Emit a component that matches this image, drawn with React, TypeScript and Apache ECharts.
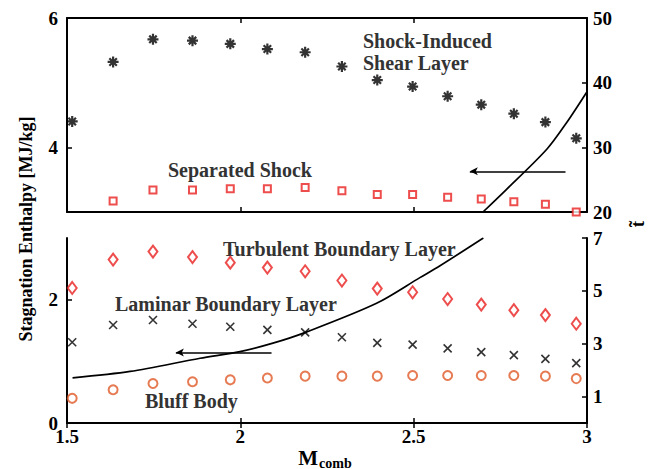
import React, { useEffect, useRef } from "react";
import * as echarts from "echarts";

// Mach number (x) of each measured case
const machComb = [1.515, 1.633, 1.748, 1.862, 1.971, 2.078, 2.187, 2.293, 2.395, 2.497, 2.598, 2.695, 2.789, 2.880, 2.969];

// Top panel (Stagnation enthalpy, MJ/kg)
const shockInducedShear = [4.40, 5.32, 5.67, 5.65, 5.60, 5.52, 5.47, 5.25, 5.04, 4.94, 4.79, 4.66, 4.52, 4.39, 4.14];
const separatedShock = [null, 3.17, 3.34, 3.34, 3.36, 3.36, 3.38, 3.33, 3.27, 3.27, 3.23, 3.20, 3.16, 3.12, 3.00];

// Bottom panel (Stagnation enthalpy, MJ/kg)
const turbulentBL = [2.19, 2.65, 2.78, 2.69, 2.60, 2.52, 2.46, 2.31, 2.18, 2.12, 2.01, 1.92, 1.83, 1.75, 1.61];
const laminarBL = [1.31, 1.59, 1.67, 1.61, 1.56, 1.51, 1.47, 1.39, 1.30, 1.27, 1.21, 1.15, 1.10, 1.04, 0.97];
const bluffBody = [0.40, 0.54, 0.64, 0.67, 0.70, 0.73, 0.76, 0.76, 0.76, 0.77, 0.77, 0.77, 0.77, 0.76, 0.72];

// t~ curve (right axis), low and high parts of the broken axis
const curveLowM = [1.516, 1.682, 1.884, 1.999, 2.094, 2.186, 2.393, 2.518, 2.576, 2.701];
const curveLowT = [1.71, 1.95, 2.45, 2.70, 3.02, 3.42, 4.53, 5.50, 5.95, 7.0];
const curveHighM = [2.70, 2.768, 2.884, 2.941, 3.0];
const curveHighT = [20, 23.5, 29.7, 33.8, 38.6];

// Arrows (data coords on the t~ axes)
const arrowTop = { from: [2.938, 26.3], to: [2.662, 26.3] };
const arrowBottom = { from: [2.09, 2.67], to: [1.814, 2.67] };

// Tick labels
const xTicks = { min: 1.5, max: 3, interval: 0.5 };
const topLeftTicks = [4, 6];
const bottomLeftTicks = [0, 2];
const bottomRightTicks = [1, 3, 5, 7];

const FONT = "'Liberation Serif', 'Times New Roman', serif";

const pair = (xs: number[], ys: (number | null)[]) =>
  xs.map((x, i) => [x, ys[i]]).filter((p) => p[1] !== null);

const ASTERISK = "path://M5 0 L5 10 M0 5 L10 5 M1.6 1.6 L8.4 8.4 M8.4 1.6 L1.6 8.4";
const CROSS = "path://M0 0 L10 10 M10 0 L0 10";

export default function App() {
  const ref = useRef<HTMLDivElement>(null);
  useEffect(() => {
    if (!ref.current) return;
    const chart = echarts.init(ref.current, null, { renderer: "svg" });

    const axisLine = { show: true, lineStyle: { color: "#000", width: 2 } };
    const tick = { show: true, inside: true, length: 5, lineStyle: { color: "#000", width: 1.5 } };
    const lbl = { color: "#000", fontFamily: FONT, fontWeight: "bold" as const, fontSize: 19 };

    const xBase = (gridIndex: number, position: string, showLabel: boolean) => ({
      type: "value",
      gridIndex,
      position,
      min: xTicks.min,
      max: xTicks.max,
      interval: xTicks.interval,
      axisLine,
      axisTick: tick,
      splitLine: { show: false },
      axisLabel: showLabel ? { ...lbl, margin: 4 } : { show: false },
    });

    const arrowLine = (a: { from: number[]; to: number[] }) => ({
      silent: true,
      symbol: ["none", "arrow"],
      symbolSize: [6, 8],
      lineStyle: { color: "#000", width: 1.5, type: "solid" },
      label: { show: false },
      emphasis: { disabled: true },
      data: [[{ coord: a.from }, { coord: a.to }]],
    });

    const ann = (text: string, left: number, top: number) => ({
      type: "text", left, top,
      style: { text, font: `bold 20px ${FONT}`, fill: "#333" },
    });

    const option: any = {
      animation: false,
      backgroundColor: "#fff",
      grid: [
        { left: 67, right: 75, top: 18, height: 194 },
        { left: 67, right: 75, top: 238, height: 185 },
      ],
      xAxis: [
        xBase(0, "bottom", false),
        xBase(0, "top", false),
        xBase(1, "bottom", true),
        xBase(1, "top", false),
      ],
      yAxis: [
        {
          type: "value", gridIndex: 0, position: "left", min: 3, max: 6,
          axisLine, splitLine: { show: false },
          axisTick: { ...tick, customValues: topLeftTicks },
          axisLabel: { ...lbl, margin: 9, customValues: topLeftTicks },
        },
        {
          type: "value", gridIndex: 0, position: "right", min: 20, max: 50, interval: 10,
          axisLine, splitLine: { show: false }, axisTick: tick,
          axisLabel: { ...lbl, margin: 6 },
        },
        {
          type: "value", gridIndex: 1, position: "left", min: 0, max: 3,
          axisLine, splitLine: { show: false },
          axisTick: { ...tick, customValues: bottomLeftTicks },
          axisLabel: { ...lbl, margin: 9, customValues: bottomLeftTicks },
        },
        {
          type: "value", gridIndex: 1, position: "right", min: 0, max: 7,
          axisLine, splitLine: { show: false },
          axisTick: { ...tick, customValues: bottomRightTicks },
          axisLabel: { ...lbl, margin: 6, customValues: bottomRightTicks },
        },
      ],
      series: [
        {
          name: "Shock-Induced Shear Layer", type: "scatter", xAxisIndex: 0, yAxisIndex: 0,
          symbol: ASTERISK, symbolSize: 11, z: 5,
          itemStyle: { color: "transparent", borderColor: "#000", borderWidth: 2.2 },
          data: pair(machComb, shockInducedShear),
        },
        {
          name: "Separated Shock", type: "scatter", xAxisIndex: 0, yAxisIndex: 0,
          symbol: "emptyRect", symbolSize: 7, z: 5,
          itemStyle: { color: "#e8211f", borderWidth: 1.5 },
          data: pair(machComb, separatedShock),
        },
        {
          name: "t high", type: "line", xAxisIndex: 0, yAxisIndex: 1,
          showSymbol: false, smooth: 0.3, z: 3,
          lineStyle: { color: "#000", width: 1.7 },
          data: pair(curveHighM, curveHighT),
          markLine: arrowLine(arrowTop),
        },
        {
          name: "Turbulent Boundary Layer", type: "scatter", xAxisIndex: 2, yAxisIndex: 2,
          symbol: "emptyDiamond", symbolSize: [9, 12], z: 5,
          itemStyle: { color: "#e8211f", borderWidth: 1.5 },
          data: pair(machComb, turbulentBL),
        },
        {
          name: "Laminar Boundary Layer", type: "scatter", xAxisIndex: 2, yAxisIndex: 2,
          symbol: CROSS, symbolSize: 8, z: 5,
          itemStyle: { color: "transparent", borderColor: "#000", borderWidth: 1.6 },
          data: pair(machComb, laminarBL),
        },
        {
          name: "Bluff Body", type: "scatter", xAxisIndex: 2, yAxisIndex: 2,
          symbol: "emptyCircle", symbolSize: 9, z: 5,
          itemStyle: { color: "#e05a28", borderWidth: 1.6 },
          data: pair(machComb, bluffBody),
        },
        {
          name: "t low", type: "line", xAxisIndex: 2, yAxisIndex: 3,
          showSymbol: false, smooth: 0.3, z: 3,
          lineStyle: { color: "#000", width: 1.7 },
          data: pair(curveLowM, curveLowT),
          markLine: arrowLine(arrowBottom),
        },
      ],
      graphic: [
        ann("Shock-Induced", 363, 31),
        ann("Shear Layer", 363, 53),
        ann("Separated Shock", 168, 160),
        ann("Turbulent Boundary Layer", 223, 239),
        ann("Laminar Boundary Layer", 115, 294),
        ann("Bluff Body", 145, 391),
        {
          type: "text", x: 26, y: 229, rotation: Math.PI / 2,
          style: { text: "Stagnation Enthalpy [MJ/kg]", font: `bold 18px ${FONT}`, fill: "#000", align: "center", verticalAlign: "middle" },
        },
        {
          type: "text", x: 637, y: 224, rotation: Math.PI / 2,
          style: { text: "t\u0303", font: `bold 19px ${FONT}`, fill: "#000", align: "center", verticalAlign: "middle" },
        },
        { type: "text", x: 318, y: 458, style: { text: "M", font: `bold 21px ${FONT}`, fill: "#000", align: "right", verticalAlign: "middle" } },
        { type: "text", x: 319, y: 463, style: { text: "comb", font: `bold 14px ${FONT}`, fill: "#000", align: "left", verticalAlign: "middle" } },
      ],
    };
    chart.setOption(option);
    return () => chart.dispose();
  }, []);
  return <div ref={ref} style={{ position: "fixed", left: 0, top: 0, width: 662, height: 469 }} />;
}
